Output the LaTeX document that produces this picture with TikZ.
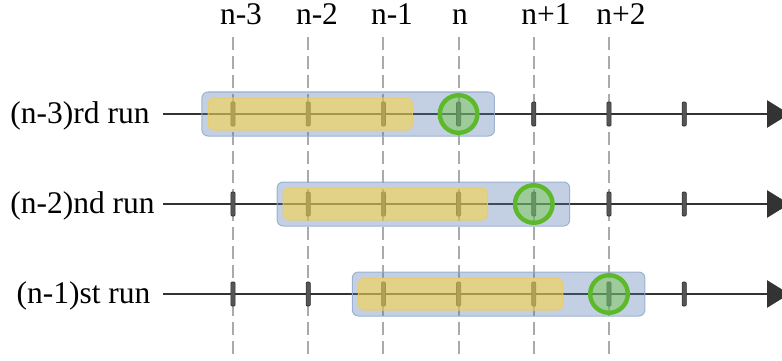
\documentclass[tikz,border=0pt]{standalone}
\usepackage{fontspec}
\setmainfont{Liberation Serif}
\usetikzlibrary{arrows.meta}
\definecolor{axisgray}{RGB}{51,51,51}
\definecolor{tickgray}{RGB}{85,85,85}
\definecolor{tickedge}{RGB}{45,45,45}
\definecolor{guidegray}{RGB}{170,170,170}
\definecolor{runblue}{RGB}{84,121,178}
\definecolor{runblueedge}{RGB}{150,172,205}
\definecolor{winyellow}{RGB}{250,212,60}
\definecolor{winyellowedge}{RGB}{235,205,95}
\definecolor{predgreen}{RGB}{120,200,80}
\definecolor{predgreenedge}{RGB}{93,184,42}
\tikzset{
  lbl/.style={font=\fontsize{31.5}{36}\selectfont, inner sep=0pt, anchor=base},
  guide/.style={guidegray, line width=2pt, dash pattern=on 13pt off 6pt},
  axisline/.style={axisgray, line width=2.6pt, -{Triangle[length=22.5pt, width=27pt]}},
  tickmark/.style={rectangle, minimum width=4.2pt, minimum height=24pt, inner sep=0pt,
    fill=tickgray, draw=tickedge, line width=0.6pt, rounded corners=1pt},
  runbox/.style={rectangle, rounded corners=6pt, minimum width=292.5pt, minimum height=44pt,
    inner sep=0pt, fill=runblue, fill opacity=0.35, draw=runblueedge, draw opacity=0.9, line width=1pt},
  winbox/.style={rectangle, rounded corners=6pt, minimum width=204.4pt, minimum height=32pt,
    inner sep=0pt, fill=winyellow, fill opacity=0.55, draw=winyellowedge, draw opacity=0.8, line width=1pt},
  predcircle/.style={circle, minimum size=37.6pt, inner sep=0pt, fill=predgreen, fill opacity=0.5,
    draw=predgreenedge, draw opacity=1, line width=4.4pt}
}
\begin{document}
\begin{tikzpicture}[x=1pt, y=-1pt]
\useasboundingbox (0,0) rectangle (782,361);

% step labels and vertical guides
\foreach \k/\txt/\lx in {0/n-3/241, 1/n-2/317, 2/n-1/392, 3/n/460, 4/n+1/546, 5/n+2/621} {
  \node[lbl] (step\k) at (\lx,25) {\txt};
  \coordinate (gtop\k) at (233+75.2*\k,37);
  \coordinate (gbot\k) at (233+75.2*\k,355);
  \draw[guide] (gtop\k) -- (gbot\k);
}

% run labels
\node[lbl] (run0) at (80,123) {(n-3)rd run};
\node[lbl] (run1) at (82.5,213) {(n-2)nd run};
\node[lbl] (run2) at (83.5,303) {(n-1)st run};

\foreach \r in {0,1,2} {
  \pgfmathsetmacro{\yy}{114+90*\r}
  \pgfmathsetmacro{\ss}{75.2*\r}
  % time axis, its tip running just past the right edge
  \coordinate (start\r) at (163,\yy);
  \coordinate (end\r) at (789.5,\yy);
  \draw[axisline] (start\r) -- (end\r);
  % ticks
  \foreach \k in {0,...,6} {
    \node[tickmark] (tick\r-\k) at (233+75.2*\k,\yy) {};
  }
  % run window, input window and predicted step
  \node[runbox] (run\r box) at (348.2+\ss,\yy) {};
  \node[winbox] (win\r) at (310.2+\ss,\yy) {};
  \node[predcircle] (pred\r) at (458.6+\ss,\yy) {};
}
\end{tikzpicture}
\end{document}
